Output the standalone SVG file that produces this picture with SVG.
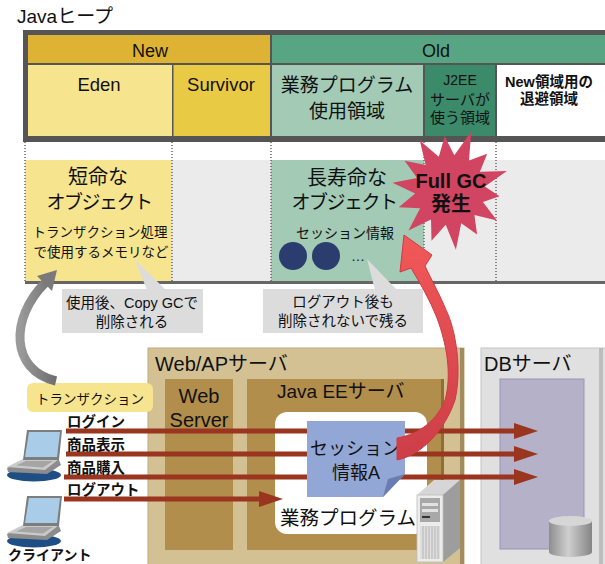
<svg xmlns="http://www.w3.org/2000/svg" width="605" height="564" viewBox="0 0 605 564">
<defs>
  <style>
    text { font-family: "Liberation Sans", "Noto Sans CJK JP", sans-serif; fill: #111; }
    .c { text-anchor: middle; }
    .b { font-weight: bold; }
    .dot { stroke: #666; stroke-width: 1.5; stroke-dasharray: 1 2; fill: none; }
    .flow { stroke: #9a3520; stroke-width: 5; fill: none; marker-end: url(#ah); }
    .note { fill: #dcdcdc; }
    .box { fill: #b18e4b; }
  </style>
  <marker id="ah" markerUnits="userSpaceOnUse" markerWidth="24" markerHeight="16" refX="3" refY="8" orient="auto" viewBox="0 0 24 16">
    <path d="M0,0 L24,8 L0,16 z" fill="#9a3520"/>
  </marker>
  <linearGradient id="redSwoosh" x1="0" y1="0" x2="0" y2="1">
    <stop offset="0" stop-color="#f25858"/>
    <stop offset="1" stop-color="#cc3e48"/>
  </linearGradient>
  <linearGradient id="grayArc" x1="0" y1="0" x2="1" y2="0">
    <stop offset="0" stop-color="#9a9a9a"/>
    <stop offset="1" stop-color="#6e6e6e"/>
  </linearGradient>
  <linearGradient id="cyl" x1="0" y1="0" x2="1" y2="0">
    <stop offset="0" stop-color="#8e8e8e"/>
    <stop offset="0.45" stop-color="#cfcfcf"/>
    <stop offset="1" stop-color="#858585"/>
  </linearGradient>
  <symbol id="laptop" overflow="visible">
    <ellipse cx="27" cy="45" rx="27" ry="6.5" fill="#1f4e85"/>
    <polygon points="0,38 16,30 52,30 54,35 40,44 1,42" fill="#8c8c8c"/>
    <polygon points="0,37 16,29 52,29 38,40" fill="#cacaca"/>
    <polygon points="9,35.5 19,31 46,31 36,37.5" fill="#a5a5a5"/>
    <polygon points="20,0 55,0 52,30 16,30" fill="#7d7d7d"/>
    <polygon points="22,2 53,2 50,27 18,27" fill="#a9cde8"/>
  </symbol>
</defs>

<rect width="605" height="564" fill="#fff"/>

<!-- heap generations -->
<g id="heap">
  <text x="17" y="23" font-size="19">Javaヒープ</text>
  <rect x="23" y="30" width="590" height="112" fill="#555"/>
  <rect x="28" y="35" width="242" height="28" fill="#deb232"/>
  <rect x="272" y="35" width="335" height="28" fill="#58a584"/>
  <rect x="28" y="65" width="144" height="71" fill="#f6e48e"/>
  <rect x="173.5" y="65" width="96.5" height="71" fill="#e8ca45"/>
  <rect x="272" y="65" width="151" height="71" fill="#a2cab5"/>
  <rect x="425" y="65" width="70" height="71" fill="#3b8a6a"/>
  <rect x="497" y="65" width="110" height="71" fill="#fff"/>
  <text class="c" x="150" y="57" font-size="18">New</text>
  <text class="c" x="436" y="57" font-size="18">Old</text>
  <text class="c" x="99" y="91" font-size="18.5">Eden</text>
  <text class="c" x="221" y="91" font-size="18.5">Survivor</text>
  <text class="c" x="347" y="92" font-size="19">業務プログラム</text>
  <text class="c" x="347" y="118" font-size="19">使用領域</text>
  <text class="c" x="460" y="85" font-size="14">J2EE</text>
  <text class="c" x="460" y="105" font-size="15">サーバが</text>
  <text class="c" x="460" y="123" font-size="15">使う領域</text>
  <text class="c b" x="549" y="87" font-size="14.5">New領域用の</text>
  <text class="c b" x="549" y="104" font-size="14.5">退避領域</text>
</g>

<!-- object lifetimes under each generation -->
<g id="lifetime">
  <rect x="25" y="160" width="582" height="122" fill="#ebebeb"/>
  <rect x="25" y="160" width="147" height="122" fill="#f6e48e"/>
  <rect x="271" y="160" width="153" height="122" fill="#a2cab5"/>
  <path class="dot" d="M25,142 V281 M172,142 V281 M271,142 V281 M424,142 V281 M496,142 V281"/>
  <rect x="25" y="281" width="582" height="3" fill="#666"/>
</g>

<g id="short-lived">
  <text class="c" x="98" y="184" font-size="20">短命な</text>
  <text class="c" x="99" y="209" font-size="19" letter-spacing="-1.5">オブジェクト</text>
  <text class="c" x="100" y="237" font-size="13.5">トランザクション処理</text>
  <text class="c" x="101" y="257" font-size="13.5">で使用するメモリなど</text>
</g>

<g id="long-lived">
  <text class="c" x="347" y="185" font-size="20">長寿命な</text>
  <text class="c" x="344" y="209" font-size="19" letter-spacing="-1.5">オブジェクト</text>
  <text class="c" x="345" y="238" font-size="14">セッション情報</text>
  <circle cx="293" cy="256" r="14" fill="#2a3d6e"/>
  <circle cx="326" cy="256" r="14" fill="#2a3d6e"/>
  <text class="c" x="358" y="261" font-size="14">…</text>
</g>

<g id="note-copy-gc">
  <polygon class="note" points="135,260 147,290 166,290"/>
  <rect class="note" x="62" y="289" width="141" height="44"/>
  <text class="c" x="132" y="308" font-size="14.5">使用後、Copy GCで</text>
  <text class="c" x="132" y="327" font-size="14.5">削除される</text>
</g>

<g id="note-logout">
  <polygon class="note" points="367,259 375,290 397,290"/>
  <rect class="note" x="263" y="289" width="160" height="44"/>
  <text class="c" x="343" y="307" font-size="14.5">ログアウト後も</text>
  <text class="c" x="343" y="326" font-size="14.5">削除されないで残る</text>
</g>

<!-- servers -->
<g id="web-ap-server">
  <rect x="148" y="348" width="316" height="220" fill="#d3c194" stroke="#c2ac78"/>
  <rect x="460" y="348" width="4" height="220" fill="#a28c5e"/>
  <text x="155" y="371" font-size="20">Web/APサーバ</text>
</g>
<g id="web-server">
  <rect class="box" x="165" y="379" width="68" height="171"/>
  <text class="c" x="199" y="403" font-size="20">Web</text>
  <text class="c" x="199" y="427" font-size="20">Server</text>
</g>
<g id="java-ee-server">
  <rect class="box" x="247" y="379" width="197" height="171"/>
  <rect x="441" y="379" width="3" height="171" fill="#8c6f36"/>
  <text x="277" y="398" font-size="19">Java EEサーバ</text>
  <rect x="275" y="412" width="152" height="122" rx="12" fill="#fff"/>
  <text x="280" y="525" font-size="19.5">業務プログラム</text>
</g>
<g id="db-server">
  <rect x="481" y="348" width="130" height="220" fill="#e0e0e0" stroke="#c4c4c4"/>
  <rect x="599" y="348" width="4" height="220" fill="#bdbdbd"/>
  <text x="484" y="371" font-size="20">DBサーバ</text>
  <rect x="500" y="379" width="84" height="170" fill="#b4b1c9" stroke="#9995b5"/>
  <rect x="549" y="521" width="43" height="31" fill="url(#cyl)"/>
  <ellipse cx="570.5" cy="552" rx="21.5" ry="5" fill="url(#cyl)"/>
  <ellipse cx="570.5" cy="521" rx="21.5" ry="5" fill="#d6d6d6"/>
</g>
<g id="ap-machine" transform="translate(416,478)">
  <polygon points="1,17 27,17 44,2 18,2" fill="#d6d6d6"/>
  <polygon points="27,17 44,2 44,70 27,84" fill="#9d9d9d"/>
  <rect x="1" y="17" width="26" height="67" fill="#ececec" stroke="#bdbdbd" stroke-width="0.8"/>
  <rect x="4" y="20" width="20" height="24" fill="#a8a8a8"/>
  <rect x="6" y="25" width="16" height="3" fill="#e2e2e2"/>
  <rect x="6" y="31" width="16" height="3" fill="#e2e2e2"/>
  <rect x="6" y="38" width="8" height="2" fill="#333"/>
  <rect x="4" y="48" width="20" height="33" fill="#dedede"/>
  <path d="M7,48 V81 M10,48 V81 M13,48 V81 M16,48 V81 M19,48 V81 M22,48 V81" stroke="#ababab" stroke-width="0.8"/>
</g>

<!-- clients -->
<g id="client">
  <use href="#laptop" x="7" y="430"/>
  <use href="#laptop" x="7" y="496"/>
  <text class="b" x="8" y="560" font-size="14">クライアント</text>
</g>

<g id="transaction-label">
  <rect x="27" y="383" width="126" height="29" rx="6" fill="#f6e48e"/>
  <text class="c" x="90" y="404" font-size="13.5">トランザクション</text>
</g>

<!-- requests -->
<g id="connectors">
  <path class="flow" d="M66,431 H517"/>
  <path class="flow" d="M66,454 H517"/>
  <path class="flow" d="M64,477 H517"/>
  <path class="flow" d="M64,499 H262"/>
  <text class="b" x="67" y="427" font-size="14.5">ログイン</text>
  <text class="b" x="67" y="450" font-size="14.5">商品表示</text>
  <text class="b" x="67" y="473" font-size="14.5">商品購入</text>
  <text class="b" x="67" y="495" font-size="14.5">ログアウト</text>
  <!-- transaction memory goes to Eden -->
  <path d="M56,381 C10,370 10,318 45,283" stroke="url(#grayArc)" stroke-width="9" fill="none"/>
  <polygon points="57,270 52,291 37,276" fill="#7a7a7a"/>
</g>

<g id="session-a">
  <polygon points="307,421 405,421 405,474 383,497 307,497" fill="#93a7d6"/>
  <polygon points="405,474 383,497 388,479" fill="#6a7db0"/>
  <text class="c" x="355" y="455" font-size="18">セッション</text>
  <text class="c" x="356" y="479" font-size="18">情報A</text>
</g>

<!-- session info survives into Old and triggers Full GC -->
<g id="promotion">
  <path d="M397,460 C422,455 445,430 455,400 C462,370 456,330 446,310 C440,295 433,283 425,266 L432,255 L404,235 L400,272 L411,268 C420,283 430,300 437,318 C447,345 452,375 445,400 C437,420 420,434 397,438 Z" fill="url(#redSwoosh)" stroke="#d03a45" stroke-width="1"/>
</g>

<g id="full-gc">
  <polygon fill="#d24562" points="471.2,131.7 469.0,160.6 487.2,153.7 479.9,171.8 506.9,170.9 484.8,186.5 499.6,196.2 482.9,202.0 497.0,220.4 474.4,215.1 477.1,234.4 461.2,223.2 455.9,249.7 445.7,224.7 431.5,240.8 431.0,219.4 408.5,230.5 420.1,208.2 398.8,207.2 415.2,193.5 392.5,182.8 417.1,178.0 404.6,160.7 425.6,164.9 419.8,140.5 438.8,156.8 444.7,136.3 454.3,155.3"/>
  <text class="c b" x="451" y="188" font-size="20">Full GC</text>
  <text class="c b" x="451" y="211" font-size="20">発生</text>
</g>
</svg>
